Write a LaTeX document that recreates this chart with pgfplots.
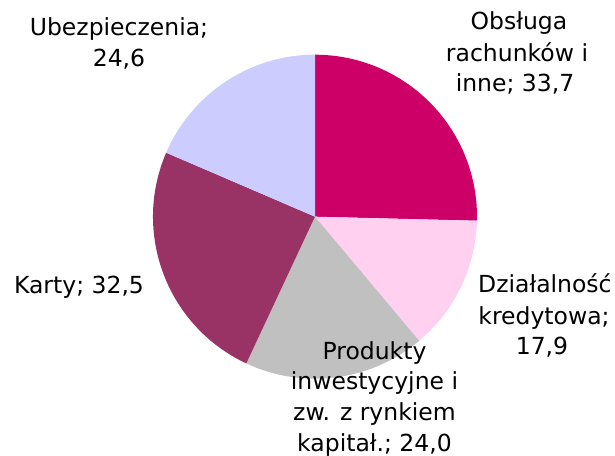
\documentclass[border=0pt]{standalone}
\usepackage{pgfplots}
\pgfplotsset{compat=1.18}
\usepackage{pgfplotstable}
\usepackage{fontspec}
\setmainfont{DejaVu Sans}

\definecolor{cObs}{HTML}{CC0066}
\definecolor{cDzi}{HTML}{FFD0F0}
\definecolor{cPro}{HTML}{C0C0C0}
\definecolor{cKar}{HTML}{993366}
\definecolor{cUbe}{HTML}{CCCCFF}

% shares of the five categories, clockwise from 12 o'clock
\pgfplotstableread{
value
33.7
17.9
24.0
32.5
24.6
}\piedata

\gdef\pietotal{0}
\pgfplotstableforeachcolumnelement{value}\of\piedata\as\v{%
  \pgfmathparse{\pietotal+\v}\xdef\pietotal{\pgfmathresult}}
\gdef\pieacc{90}
\pgfplotstableforeachcolumnelement{value}\of\piedata\as\v{%
  \pgfmathparse{\pieacc-360*\v/\pietotal}\let\newacc\pgfmathresult
  \expandafter\xdef\csname pieS\pgfplotstablerow\endcsname{\pieacc}%
  \expandafter\xdef\csname pieE\pgfplotstablerow\endcsname{\newacc}%
  \xdef\pieacc{\newacc}}

\newcommand\pieslice[2]{%
  \fill[#2] (axis cs:315,239.3) -- ++(\csname pieS#1\endcsname:162bp)
    arc[start angle=\csname pieS#1\endcsname,end angle=\csname pieE#1\endcsname,radius=162bp] -- cycle;}

\begin{document}
\begin{tikzpicture}[every node/.style={font=\fontsize{23.5bp}{30bp}\selectfont, inner sep=0pt, anchor=base}]
\begin{axis}[x=1bp,y=1bp,xmin=0,xmax=615,ymin=0,ymax=456,hide axis,clip=false]
\coordinate (bl) at (rel axis cs:0,0);
\coordinate (tr) at (rel axis cs:1,1);
\pieslice{0}{cObs}
\pieslice{1}{cDzi}
\pieslice{2}{cPro}
\pieslice{3}{cKar}
\pieslice{4}{cUbe}
% labels
\node at (axis cs:119,420.3) {Ubezpieczenia;};
\node at (axis cs:119,389.3) {24,6};
\node at (axis cs:519,426) {Obsługa};
\node at (axis cs:517,394.3) {rachunków i};
\node at (axis cs:515,364.3) {inne; 33,7};
\node at (axis cs:79,162.7) {Karty; 32,5};
\node[anchor=base west] at (axis cs:478,163) {Działalność};
\node at (axis cs:544,131) {kredytowa;};
\node at (axis cs:542,101) {17,9};
\node at (axis cs:374.5,96.7) {Produkty};
\node at (axis cs:374.5,66) {inwestycyjne i};
\node at (axis cs:374.5,35) {zw. z rynkiem};
\node at (axis cs:374.5,4) {kapitał.; 24,0};
\end{axis}
\pgfresetboundingbox
\useasboundingbox (bl) rectangle (tr);
\end{tikzpicture}
\end{document}
